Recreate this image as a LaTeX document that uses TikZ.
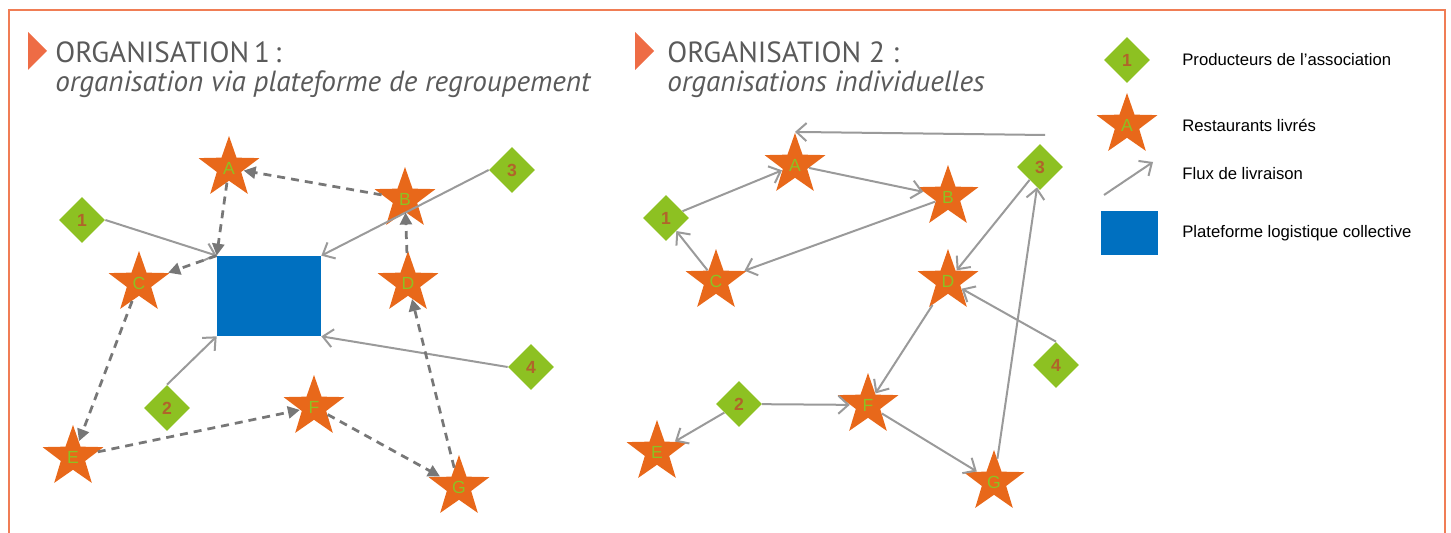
\documentclass[tikz,border=0pt]{standalone}
\usepackage{fontspec}
\setmainfont{Liberation Sans}
\newfontfamily\titlefont{PT Sans}
\usetikzlibrary{arrows.meta}
\usetikzlibrary{shapes.geometric}
\definecolor{framecol}{HTML}{F07D55}
\definecolor{markcol}{HTML}{EE6C45}
\definecolor{prodgreen}{HTML}{8DC122}
\definecolor{restorange}{HTML}{E8681A}
\definecolor{platblue}{HTML}{0070C0}
\definecolor{numbrown}{HTML}{B0642A}
\definecolor{fluxgray}{HTML}{9A9A9A}
\definecolor{tourgray}{HTML}{777777}
\definecolor{titlegray}{HTML}{5A5A5A}
\begin{document}
\begin{tikzpicture}[x=0.02cm,y=-0.02cm,
        prod/.style={diamond,aspect=1,fill=prodgreen,inner sep=0pt,minimum size=0.92cm,
            text=numbrown,font=\fontsize{10}{12}\selectfont\bfseries},
        resto/.style={star,star points=5,star point ratio=2.5,fill=restorange,inner sep=0pt,
            minimum size=1.28cm,text=prodgreen,font=\fontsize{10}{12}\selectfont},
        plat/.style={rectangle,fill=platblue,inner sep=0pt},
        flux/.style={draw=fluxgray,line width=0.4mm,-{Straight Barb[length=2mm,width=3.6mm]}},
        tour/.style={draw=tourgray,line width=0.55mm,dash pattern=on 1.6mm off 1.2mm,
            -{Triangle[length=2.4mm,width=2.4mm]}},
        titre/.style={anchor=base west,inner sep=0pt,text=titlegray,font=\titlefont\fontsize{16.6}{19}\selectfont},
        legende/.style={anchor=west,inner sep=0pt,font=\fontsize{9.5}{11}\selectfont}]
    \useasboundingbox (0,0) rectangle (1451,533);
    % cadre
    \draw[framecol,line width=0.4mm] (9,533) -- (9,10) -- (1445,10) -- (1445,533);
    % titres
    \fill[markcol] (28,32) -- (47,51) -- (28,70) -- cycle;
    \node[titre] (t1) at (55,63) {ORGANISATION\,1\,:};
    \node[titre] (t1b) at (55,92) {\itshape organisation via plateforme de regroupement};
    \fill[markcol] (635,32) -- (654,51) -- (635,70) -- cycle;
    \node[titre] (t2) at (667,63) {ORGANISATION 2 :};
    \node[titre] (t2b) at (667,92) {\itshape organisations individuelles};

    % organisation 1
    \node[plat,minimum width=2.08cm,minimum height=1.6cm] (pf) at (269,296) {};
    \node[resto] (a1) at (229,168) {A};
    \node[resto] (b1) at (405,199) {B};
    \node[resto] (c1) at (139,283) {C};
    \node[resto] (d1) at (408,283) {D};
    \node[resto] (e1) at (73,457) {E};
    \node[resto] (f1) at (314,407) {F};
    \node[resto] (g1) at (459,487) {G};
    \node[prod] (p11) at (82,220) {1};
    \node[prod] (p12) at (167,408) {2};
    \node[prod] (p13) at (512,170) {3};
    \node[prod] (p14) at (531,367) {4};
    \draw[flux] (p11.east) -- (pf.north west);
    \draw[flux] (p13.west) -- (pf.north east);
    \draw[flux] (p12.north) -- (pf.south west);
    \draw[flux] (p14.west) -- (pf.south east);
    \draw[tour] (pf.north west) -- (c1);
    \draw[tour] (c1) -- (e1);
    \draw[tour] (e1) -- (f1);
    \draw[tour] (f1) -- (g1);
    \draw[tour] (g1) -- (d1);
    \draw[tour] (d1) -- (b1);
    \draw[tour] (b1) -- (a1);
    \draw[tour] (a1) -- (pf.north west);

    % organisation 2
    \node[resto] (a2) at (795,165) {A};
    \node[resto] (b2) at (948,197) {B};
    \node[resto] (c2) at (716,281) {C};
    \node[resto] (d2) at (948,281) {D};
    \node[resto] (e2) at (657,452) {E};
    \node[resto] (f2) at (868,405) {F};
    \node[resto] (g2) at (994,482) {G};
    \node[prod] (p21) at (666,218) {1};
    \node[prod] (p22) at (739,404) {2};
    \node[prod] (p23) at (1040,167) {3};
    \node[prod] (p24) at (1056,365) {4};
    \coordinate (haut3) at (1045,135);
    \draw[flux] (p21) -- (a2);
    \draw[flux] (a2) -- (b2);
    \draw[flux] (b2) -- (c2);
    \draw[flux] (c2) -- (p21);
    \draw[flux] (haut3) -- (a2.north);
    \draw[flux] (p23) -- (d2);
    \draw[flux] (d2) -- (f2);
    \draw[flux] (p24.north) -- (d2);
    \draw[flux] (p22) -- (f2);
    \draw[flux] (p22) -- (e2);
    \draw[flux] (f2) -- (g2);
    \draw[flux] (g2) -- (p23);

    % legende
    \node[prod] (lp) at (1127,60) {1};
    \node[resto] (lr) at (1127,125) {A};
    \coordinate (lf1) at (1104,195);
    \coordinate (lf2) at (1153,162);
    \draw[flux] (lf1) -- (lf2);
    \node[plat,minimum width=1.14cm,minimum height=0.9cm] (lpf) at (1129,233) {};
    \node[legende] at (1182,60) {Producteurs de l’association};
    \node[legende] at (1182,125) {Restaurants livrés};
    \node[legende] at (1182,174) {Flux de livraison};
    \node[legende] at (1182,233) {Plateforme logistique collective};
\end{tikzpicture}
\end{document}
